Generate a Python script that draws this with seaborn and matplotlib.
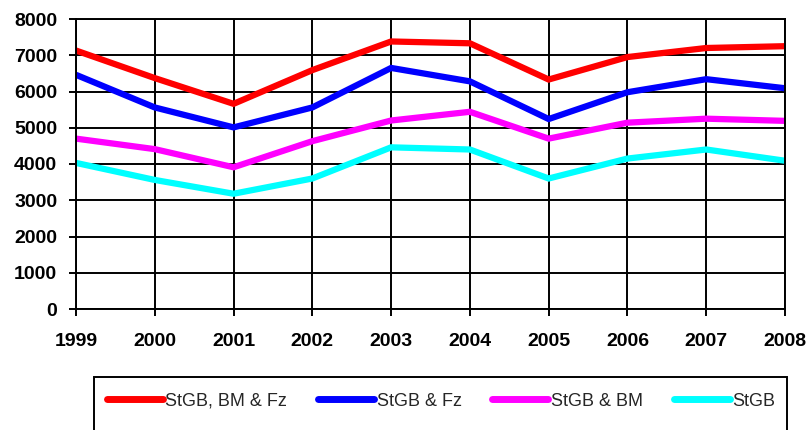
import matplotlib
matplotlib.use("Agg")
import matplotlib.pyplot as plt
import seaborn as sns
import pandas as pd
from matplotlib.patches import Rectangle

years = [1999, 2000, 2001, 2002, 2003, 2004, 2005, 2006, 2007, 2008]
series_names = ["StGB, BM & Fz", "StGB & Fz", "StGB & BM", "StGB"]
stgb_bm_fz = [7130, 6370, 5660, 6590, 7380, 7330, 6330, 6950, 7200, 7250]
stgb_fz = [6460, 5560, 5010, 5560, 6650, 6280, 5240, 5980, 6340, 6090]
stgb_bm = [4700, 4410, 3910, 4630, 5200, 5440, 4700, 5140, 5250, 5190]
stgb = [4030, 3560, 3180, 3600, 4460, 4400, 3600, 4150, 4400, 4090]
colors = ["#ff0000", "#0000ff", "#ff00ff", "#00ffff"]
yticks = [0, 1000, 2000, 3000, 4000, 5000, 6000, 7000, 8000]

rows = []
for name, vals in zip(series_names, [stgb_bm_fz, stgb_fz, stgb_bm, stgb]):
    for y, v in zip(years, vals):
        rows.append({"Jahr": y, "Wert": v, "Reihe": name})
df = pd.DataFrame(rows)

sns.set_style("white")
plt.rcParams["font.family"] = ["Liberation Sans", "DejaVu Sans"]

fig = plt.figure(figsize=(8.08, 4.30), dpi=100)
ax = fig.add_axes([76 / 808, 1 - 309 / 430, (785 - 76) / 808, (309 - 19) / 430])

sns.lineplot(data=df, x="Jahr", y="Wert", hue="Reihe", hue_order=series_names,
             palette=colors, linewidth=4.5, ax=ax, legend=False,
             solid_joinstyle="miter", solid_capstyle="butt")

ax.set_xlim(years[0], years[-1])
ax.set_ylim(0, 8000)
ax.set_xticks(years)
ax.set_xticklabels([str(y) for y in years])
ax.set_yticks(yticks)
ax.set_yticklabels([str(t) for t in yticks])
ax.set_xlabel("")
ax.set_ylabel("")
ax.grid(True, color="black", linewidth=1.4)
ax.set_axisbelow(True)
for s in ax.spines.values():
    s.set_color("black")
    s.set_linewidth(1.4)
ax.tick_params(axis="both", which="both", direction="out", length=5, width=1.4,
               color="black", labelsize=14, pad=8.5, bottom=True, left=True)
for lab in ax.get_xticklabels() + ax.get_yticklabels():
    lab.set_fontweight("bold")
    lab.set_color("black")
ax.tick_params(axis="x", pad=12)

# legend frame (extends below figure edge as in the reference)
fig.patches.append(Rectangle((94 / 808, -0.05), (787 - 94) / 808, 0.05 + (430 - 377) / 430,
                             transform=fig.transFigure, fill=False,
                             edgecolor="black", linewidth=1.4))
handles = [plt.Line2D([], [], color=c, linewidth=5, solid_capstyle="round") for c in colors]
fig.legend(handles, series_names, ncol=4, loc="center",
           bbox_to_anchor=(441 / 808, 1 - 401 / 430), frameon=False,
           fontsize=13, handlelength=3.1, handletextpad=0.15, columnspacing=1.7)

fig.savefig("out.png", dpi=100)
